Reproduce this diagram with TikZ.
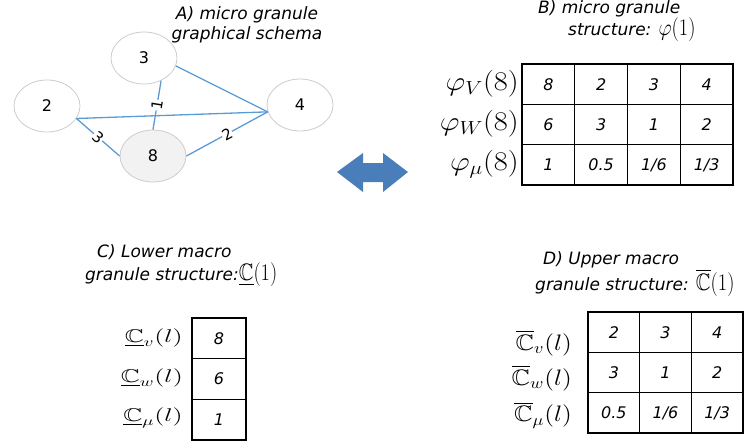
\RequirePackage{fix-cm}
\documentclass[tikz,border=0pt]{standalone}
\usepackage{graphicx}
\usepackage{amssymb}
\usepackage[no-math]{fontspec}
\setmainfont{DejaVu Sans}
\usetikzlibrary{shapes.geometric}
\definecolor{edgeblue}{RGB}{91,155,213}
\definecolor{arrowblue}{RGB}{74,126,187}
\definecolor{nodegray}{RGB}{242,242,242}
\definecolor{ringgray}{RGB}{205,205,205}
\newcommand{\stretchlab}[3]{\scalebox{#1}[#2]{#3}}
\begin{document}
\begin{tikzpicture}[x=1pt,y=-1pt,
  vnode/.style={ellipse, draw=ringgray, line width=0.8pt, fill=white, minimum width=66pt, minimum height=52pt, inner sep=0pt, font=\fontsize{16}{18}\selectfont},
  link/.style={draw=edgeblue, line width=1.3pt},
  wlabel/.style={sloped, fill=white, inner sep=0.6pt, font=\fontsize{15}{16}\selectfont},
  title/.style={font=\fontsize{17}{20}\selectfont\itshape, inner sep=0pt},
  cell/.style={draw=black, line width=1.1pt, inner sep=0pt, font=\fontsize{16}{18}\selectfont\itshape},
  bcell/.style={cell, minimum width=52.75pt, minimum height=40.33pt},
  ccell/.style={cell, minimum width=54pt, minimum height=40.67pt},
  dcell/.style={cell, minimum width=51.67pt, minimum height=40.33pt},
  rowlab/.style={anchor=east, inner sep=0pt, font=\fontsize{18}{20}\selectfont},
  rowlabc/.style={anchor=east, inner sep=0pt, font=\fontsize{16}{18}\selectfont},
]
\useasboundingbox (0,0) rectangle (746,445);

% A) graph
\node[title, align=center] (tA) at (247,25) {A) micro granule\\graphical schema};
\node[vnode] (n3) at (144,58) {3};
\node[vnode] (n2) at (47,106) {2};
\node[vnode] (n4) at (300,105) {4};
\node[vnode, fill=nodegray] (n8) at (153,156) {8};
\draw[link] (n3.346) -- (n4.192);
\draw[link] (n2.337) -- (n4.192);
\draw[link] (n3.307) -- node[wlabel] {1} (n8.90);
\draw[link] (n2.337) -- node[wlabel] {3} (n8.180);
\draw[link] (n8.0) -- node[wlabel] {2} (n4.192);

% double arrow
\fill[arrowblue] (337,172) -- (363,153) -- (363,163) -- (383,163) -- (383,153) -- (408,172)
  -- (383,192) -- (383,182) -- (363,182) -- (363,192) -- cycle;

% B) micro granule structure
\node[title, anchor=west] (tB1) at (538,9) {B) micro granule};
\node[title, anchor=west] (tB2) at (568,30) {structure: \stretchlab{1.2}{1.4}{$\varphi(1)$}};
\foreach \v [count=\c] in {8,2,3,4}
  \node[bcell] (b1\c) at ({522+52.75*(\c-0.5)},84.2) {\v};
\foreach \v [count=\c] in {6,3,1,2}
  \node[bcell] (b2\c) at ({522+52.75*(\c-0.5)},124.5) {\v};
\foreach \v [count=\c] in {1,0.5,1/6,1/3}
  \node[bcell] (b3\c) at ({522+52.75*(\c-0.5)},164.8) {\v};
\node[rowlab] (lb1) at (519,84) {\stretchlab{1.7}{1.5}{$\varphi_{V}(8)$}};
\node[rowlab] (lb2) at (519,124) {\stretchlab{1.7}{1.5}{$\varphi_{W}(8)$}};
\node[rowlab] (lb3) at (519,164) {\stretchlab{1.7}{1.5}{$\varphi_{\mu}(8)$}};

% C) lower macro granule structure
\node[title, anchor=west] (tC1) at (97,252) {C) Lower macro};
\node[title, anchor=west] (tC2) at (85,275) {granule structure:\stretchlab{1.2}{1.4}{$\underline{\mathbb{C}}(1)$}};
\node[ccell] (c1) at (219,338.3) {8};
\node[ccell] (c2) at (219,379) {6};
\node[ccell] (c3) at (219,419.7) {1};
\node[rowlabc] (lc1) at (183,338) {\stretchlab{1.65}{1.15}{$\underline{\mathbb{C}}_{v}(l)$}};
\node[rowlabc] (lc2) at (183,378) {\stretchlab{1.65}{1.15}{$\underline{\mathbb{C}}_{w}(l)$}};
\node[rowlabc] (lc3) at (183,418) {\stretchlab{1.65}{1.15}{$\underline{\mathbb{C}}_{\mu}(l)$}};

% D) upper macro granule structure
\node[title, anchor=west] (tD1) at (543,260) {D) Upper macro};
\node[title, anchor=west] (tD2) at (535,283) {granule structure: \stretchlab{1.2}{1.4}{$\overline{\mathbb{C}}(1)$}};
\foreach \v [count=\c] in {2,3,4}
  \node[dcell] (d1\c) at ({588+51.67*(\c-0.5)},332.2) {\v};
\foreach \v [count=\c] in {3,1,2}
  \node[dcell] (d2\c) at ({588+51.67*(\c-0.5)},372.5) {\v};
\foreach \v [count=\c] in {0.5,1/6,1/3}
  \node[dcell] (d3\c) at ({588+51.67*(\c-0.5)},412.8) {\v};
\node[rowlabc] (ld1) at (572,343) {\stretchlab{1.6}{1.4}{$\overline{\mathbb{C}}_{v}(l)$}};
\node[rowlabc] (ld2) at (572,378) {\stretchlab{1.6}{1.4}{$\overline{\mathbb{C}}_{w}(l)$}};
\node[rowlabc] (ld3) at (572,415) {\stretchlab{1.6}{1.4}{$\overline{\mathbb{C}}_{\mu}(l)$}};
\end{tikzpicture}
\end{document}
